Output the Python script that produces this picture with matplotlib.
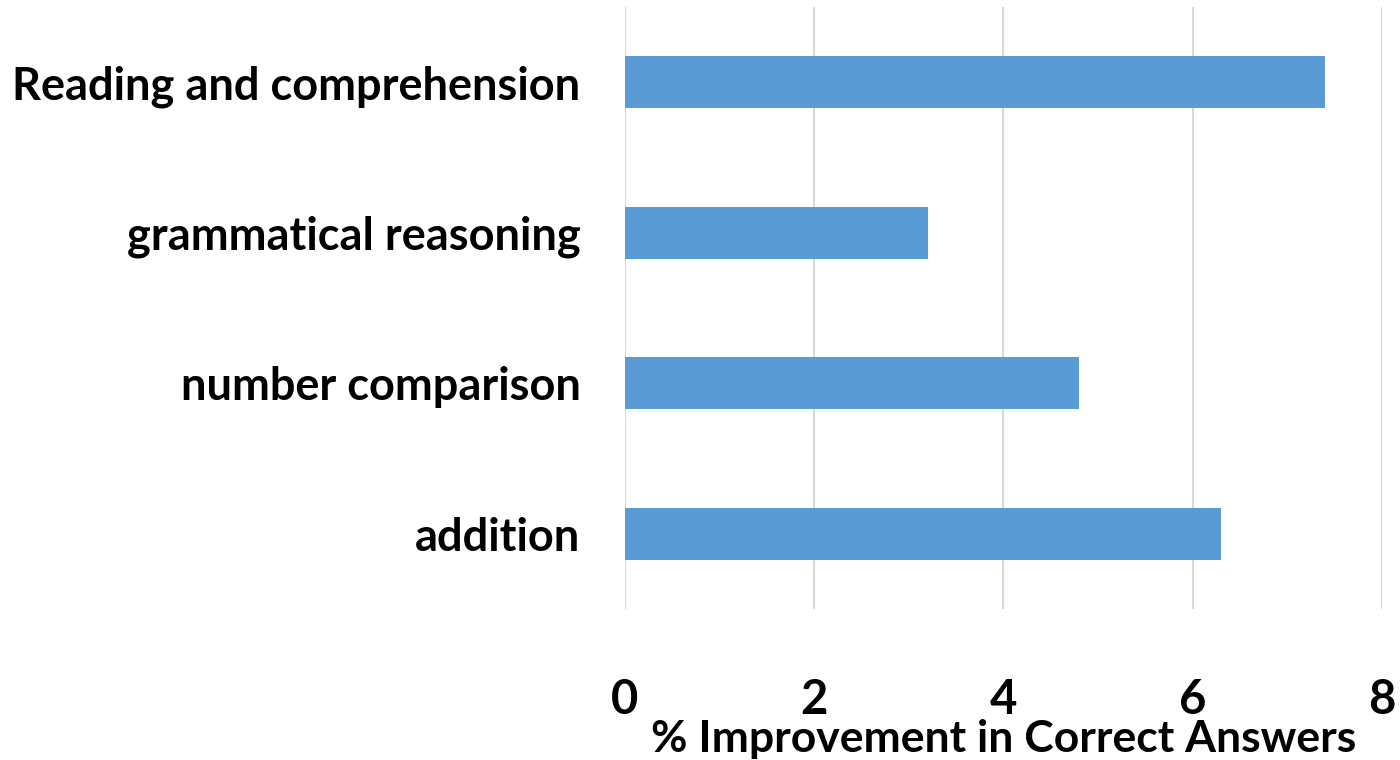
import matplotlib
matplotlib.use("Agg")
import matplotlib.pyplot as plt

categories = ["Reading and comprehension", "grammatical reasoning",
              "number comparison", "addition"]
improvement = [7.4, 3.2, 4.8, 6.3]
x_ticks = [0, 2, 4, 6, 8]
x_label = "% Improvement in Correct Answers"

plt.rcParams["font.family"] = ["Lato", "DejaVu Sans"]

fig = plt.figure(figsize=(14, 7.6), dpi=100)
ax = fig.add_axes([0.4464, 0.1987, 0.987 - 0.4464, 0.9908 - 0.1987])

ypos = list(range(len(categories)))
ax.barh(ypos, improvement, height=0.345, color="#5B9BD5", zorder=2)
ax.set_ylim(len(categories) - 0.5, -0.5)
ax.set_xlim(0, 8)
ax.set_xticks(x_ticks)
ax.set_xticklabels([str(t) for t in x_ticks])
ax.set_yticks(ypos)
ax.set_yticklabels(categories)

ax.xaxis.grid(True, color="#D9D9D9", linewidth=1.5, zorder=0)
ax.set_axisbelow(True)
for s in ax.spines.values():
    s.set_visible(False)

ax.tick_params(axis="y", length=0, pad=32, labelsize=32.5)
ax.tick_params(axis="x", length=0, pad=50, labelsize=34)
for lbl in ax.get_yticklabels() + ax.get_xticklabels():
    lbl.set_fontweight("bold")

# axis title placed in figure coordinates, centred under the plot area
fig.text(0.4464 + (0.987 - 0.4464) / 2, 0.010, x_label,
         ha="center", va="baseline", fontsize=32, fontweight="bold")

fig.savefig("out.png", dpi=100)
